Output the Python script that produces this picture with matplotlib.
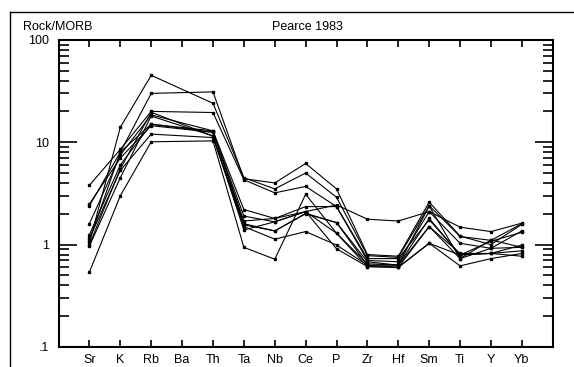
import numpy as np
import matplotlib
matplotlib.use("Agg")
import matplotlib.pyplot as plt
from matplotlib.lines import Line2D
from matplotlib.ticker import FixedLocator, FixedFormatter, LogLocator, NullFormatter

plt.rcParams['font.family'] = ['Liberation Sans', 'DejaVu Sans']

# elements on the x axis (Ba has no analyses)
elements = ['Sr', 'K', 'Rb', 'Ba', 'Th', 'Ta', 'Nb', 'Ce', 'P', 'Zr', 'Hf', 'Sm', 'Ti', 'Y', 'Yb']
nan = np.nan

# rock / MORB ratios, one list per sample
s1 = [1.05, 14.0, 45.0, nan, 24.0, 4.5, 3.5, 5.0, 2.9, 0.78, 0.75, 2.4, 1.2, 1.1, 1.6]
s2 = [2.4, 8.0, 30.0, nan, 31.0, 4.4, 4.0, 6.2, 3.5, 0.8, 0.77, 2.6, 1.21, 1.0, 1.58]
s3 = [3.8, 8.5, 20.0, nan, 19.5, 4.3, 3.2, 3.7, 2.35, 0.7, 0.68, 2.1, 1.03, 0.92, 1.36]
s4 = [1.6, 7.5, 18.5, nan, 12.9, 2.2, 1.8, 2.1, 2.44, 1.77, 1.70, 2.1, 1.48, 1.34, 1.62]
s5 = [1.25, 6.0, 15.0, nan, 12.5, 1.7, 1.8, 2.35, 2.35, 0.73, 0.73, 1.75, 0.8, 0.82, 0.87]
s6 = [1.0, 5.5, 19.6, nan, 11.5, 1.56, 1.36, 2.02, 1.64, 0.68, 0.63, 1.5, 0.73, 0.92, 0.94]
s7 = [0.54, 3.0, 10.1, nan, 10.3, 0.94, 0.72, 3.1, 1.29, 0.61, 0.6, 1.03, 0.62, 0.73, 0.82]
s8 = [1.15, 5.3, 12.0, nan, 11.1, 1.5, 1.13, 1.34, 0.99, 0.63, 0.6, 1.03, 0.79, 0.82, 0.77]
s9 = [2.5, 7.0, 14.5, nan, 12.5, 1.9, 1.67, 2.1, 1.29, 0.65, 0.63, 1.8, 0.79, 1.08, 1.32]
s10 = [0.97, 4.5, 18.0, nan, 11.5, 1.39, 1.67, 2.1, 0.91, 0.61, 0.6, 1.5, 0.82, 0.82, 0.99]
s11 = [1.1, 8.0, 15.0, nan, 12.9, 1.6, 1.36, 2.0, 1.64, 0.63, 0.63, 2.38, 0.73, 1.11, 0.94]
samples = [s1, s2, s3, s4, s5, s6, s7, s8, s9, s10, s11]

y_ticks = [0.1, 1, 10, 100]
y_labels = ['.1', '1', '10', '100']

fig = plt.figure(figsize=(5.74, 3.67), dpi=100)
ax = fig.add_axes([0.102, 0.0545, 0.861, 0.837])

x = np.arange(len(elements))
for s in samples:
    v = np.array(s, dtype=float)
    ok = ~np.isnan(v)  # skip missing elements so the line joins across them
    ax.plot(x[ok], v[ok], color='black', lw=0.8, marker='s', ms=1.8)

ax.set_yscale('log')
ax.set_ylim(0.1, 100)
ax.set_xlim(-1, 15)

ax.xaxis.set_major_locator(FixedLocator(x))
ax.xaxis.set_major_formatter(FixedFormatter(elements))
ax.xaxis.set_minor_locator(FixedLocator([]))
ax.yaxis.set_major_locator(FixedLocator(y_ticks))
ax.yaxis.set_major_formatter(FixedFormatter(y_labels))
ax.yaxis.set_minor_locator(LogLocator(base=10, subs=np.arange(2, 10)))
ax.yaxis.set_minor_formatter(NullFormatter())

ax.tick_params(axis='x', which='major', direction='in', top=True, length=5, width=1.2,
               labelsize=9, pad=5)
ax.tick_params(axis='y', which='major', direction='in', right=True, length=13, width=1.2,
               labelsize=9, pad=7)
ax.tick_params(axis='y', which='minor', direction='in', right=True, length=7, width=1.2)
for sp in ax.spines.values():
    sp.set_linewidth(1.5)

fig.text(23 / 574, 0.926, 'Rock/MORB', fontsize=9, va='center', ha='left')
fig.text(307 / 574, 0.926, 'Pearce 1983', fontsize=9, va='center', ha='center')

# outer frame of the original window
fig.add_artist(Line2D([10 / 574, 10 / 574], [0, 0.967], transform=fig.transFigure, color='black', lw=1))
fig.add_artist(Line2D([10 / 574, 1], [0.967, 0.967], transform=fig.transFigure, color='black', lw=1))

fig.savefig('out.png', dpi=100)
